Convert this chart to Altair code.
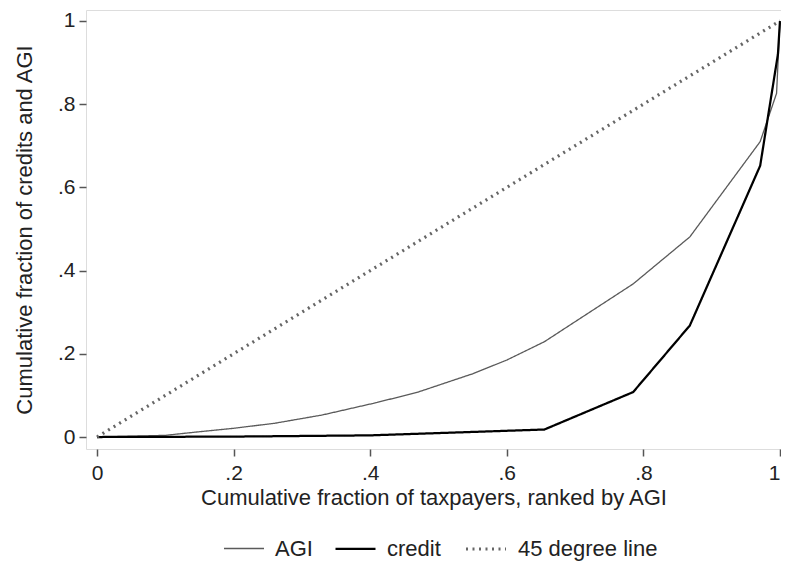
import altair as alt
import pandas as pd

# ---- data ----
agi_x = [0, 0.10, 0.14, 0.20, 0.26, 0.33, 0.41, 0.47, 0.55, 0.60, 0.655, 0.785, 0.868, 0.971, 0.995, 1.0]
agi_y = [0, 0.004, 0.011, 0.021, 0.033, 0.053, 0.083, 0.108, 0.152, 0.185, 0.229, 0.368, 0.481, 0.710, 0.826, 1.0]

credit_x = [0, 0.20, 0.40, 0.655, 0.785, 0.868, 0.971, 0.997, 1.0]
credit_y = [0, 0.001, 0.004, 0.018, 0.108, 0.268, 0.652, 0.920, 1.0]

diag_x = [0, 1]
diag_y = [0, 1]

series_names = ["AGI", "credit", "45 degree line"]
tick_values = [0, 0.2, 0.4, 0.6, 0.8, 1]

rows = []
for name, xs, ys in zip(series_names, [agi_x, credit_x, diag_x], [agi_y, credit_y, diag_y]):
    for i, (xv, yv) in enumerate(zip(xs, ys)):
        rows.append({"series": name, "x": xv, "y": yv, "i": i})
df = pd.DataFrame(rows)

FONT = "Liberation Sans"
label_expr = "datum.value == 0 ? '0' : datum.value == 1 ? '1' : '.' + round(datum.value * 10)"

leg = alt.Legend(
    title=None,
    orient="none",
    direction="horizontal",
    legendX=137,
    legendY=517,
    symbolType="stroke",
    symbolSize=1600,
    labelFontSize=22,
    labelFont=FONT,
    labelColor="#222222",
    labelOffset=10,
    columnPadding=18,
)

chart = (
    alt.Chart(df)
    .mark_line(clip=True)
    .encode(
        x=alt.X(
            "x:Q",
            scale=alt.Scale(domain=[-0.0161, 1.0015], nice=False, zero=False),
            axis=alt.Axis(
                values=tick_values,
                labelExpr=label_expr,
                title="Cumulative fraction of taxpayers, ranked by AGI",
                grid=False,
                domain=False,
                tickSize=7,
                tickWidth=1.5,
                tickColor="#555555",
                labelFontSize=21,
                labelFont=FONT,
                labelColor="#222222",
                labelPadding=6,
                labelFlush=4,
                titleFontSize=22,
                titleFont=FONT,
                titleFontWeight="normal",
                titleColor="#222222",
                titlePadding=4,
            ),
        ),
        y=alt.Y(
            "y:Q",
            scale=alt.Scale(domain=[-0.0288, 1.0264], nice=False, zero=False),
            axis=alt.Axis(
                values=tick_values,
                labelExpr=label_expr,
                title="Cumulative fraction of credits and AGI",
                grid=False,
                domain=False,
                tickSize=7,
                tickWidth=1.5,
                tickColor="#555555",
                labelFontSize=21,
                labelFont=FONT,
                labelColor="#222222",
                labelPadding=4,
                titleFontSize=22,
                titleFont=FONT,
                titleFontWeight="normal",
                titleColor="#222222",
                titlePadding=21,
            ),
        ),
        color=alt.Color(
            "series:N",
            scale=alt.Scale(domain=series_names, range=["#5a5a5a", "#000000", "#666666"]),
            legend=leg,
        ),
        strokeWidth=alt.StrokeWidth(
            "series:N",
            scale=alt.Scale(domain=series_names, range=[1.3, 3.2, 1.6]),
            legend=leg,
        ),
        strokeDash=alt.StrokeDash(
            "series:N",
            scale=alt.Scale(domain=series_names, range=[[1, 0], [1, 0], [2, 4.5]]),
            legend=leg,
        ),
        order="i:Q",
    )
    .properties(
        width=695,
        height=439,
        autosize=alt.AutoSizeParams(type="none"),
        padding={"left": 78, "top": 2, "right": 0, "bottom": 114},
    )
    .configure_view(stroke="#555555", strokeWidth=2)
    .configure(background="white")
)

chart.save("out.html", embed_options={"renderer": "svg", "actions": False})
